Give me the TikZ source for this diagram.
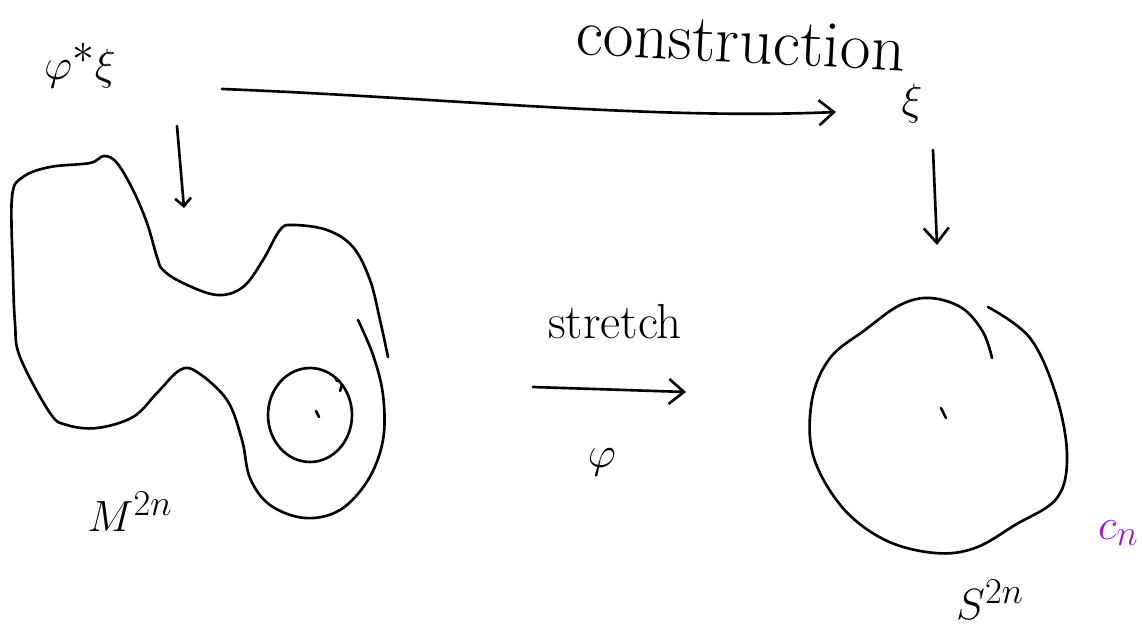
\documentclass[tikz,border=0pt]{standalone}
\usepackage{xcolor}
\usepackage{tikz}
\usetikzlibrary{arrows.meta}
\definecolor{inkBlack}{HTML}{000000}
\definecolor{inkPurple}{HTML}{A21CC9}

\begin{document}
\begin{tikzpicture}[x=0.02cm, y=-0.02cm,
  every node/.style={inner sep=0pt, text=inkBlack},
  ink/.style={draw=inkBlack, line width=1.5pt, line cap=round, line join=round},
  arr/.style={ink, -{Straight Barb[length=3mm, width=5mm, line width=1.5pt]}},
  smallarr/.style={ink, -{Straight Barb[length=1.6mm, width=3.2mm, line width=1.5pt]}},
  big/.style={font=\fontsize{34}{40}\selectfont},
  mid/.style={font=\fontsize{28}{34}\selectfont},
  title/.style={font=\fontsize{38}{44}\selectfont},
]
  \useasboundingbox (0,0) rectangle (1142,628);
  \clip (0,0) rectangle (1142,628);

  % labels
  \node[title, anchor=base west, rotate=-3] (cons) at (575,54) {construction};
  \node[big] (pull) at (80,66) {$\varphi^{*}\xi$};
  \node[big] (xi) at (912,104) {$\xi$};
  \node[mid] (str) at (615,322) {stretch};
  \node[big] (phi) at (602,462) {$\varphi$};
  \node[mid] (M) at (130,512) {$M^{2n}$};
  \node[mid] (S) at (990,600) {$S^{2n}$};
  \node[mid, text=inkPurple, anchor=east] (cn) at (1139,533) {$c_n$};

  % arrow ends
  \coordinate (h0) at (222,89);
  \coordinate (h1) at (836,112);
  \coordinate (l0) at (177,126);
  \coordinate (l1) at (184,208);
  \coordinate (r0) at (933,150);
  \coordinate (r1) at (937,245);
  \coordinate (s0) at (533,387);
  \coordinate (s1) at (686,392);

  \draw[arr] (h0) .. controls (450,98) and (650,120) .. (h1);
  \draw[smallarr] (l0) -- (l1);
  \draw[arr] (r0) -- (r1);
  \draw[arr] (s0) -- (s1);

  % M^{2n}
  \draw[ink] plot[smooth, tension=0.6] coordinates {(388,357) (380,320) (370,280)
    (353,247) (327,230) (293,225) (280,230) (263,260) (243,287) (217,295)
    (183,283) (163,270) (157,257) (147,223) (133,190) (117,163) (104,156)
    (90,163) (50,167) (23,177) (12,197) (13,273) (15,323) (20,357) (50,413)
    (67,425) (97,428) (133,417) (157,393) (180,370) (197,372) (227,400)
    (242,440) (250,478) (270,505) (305,518) (340,510) (368,480) (383,440)
    (383,395) (373,355) (358,320)};
  \draw[ink] (310,415) ellipse [x radius=0.84cm, y radius=0.94cm];
  \draw[ink] (316,411) -- (319,417);
  \draw[ink] (335,377) -- (337,381);
  \draw[ink] (342,385) -- (340,391);

  % S^{2n}
  \draw[ink] plot[smooth, tension=0.6] coordinates {(988,307) (1030,338)
    (1056,395) (1067,455) (1057,498) (1015,525) (975,548) (935,553) (885,540)
    (842,507) (813,455) (812,400) (830,358) (865,330) (900,305) (930,298)
    (962,308) (983,332) (992,358)};
  \draw[ink] (941,408) -- (946,418);
\end{tikzpicture}
\end{document}
